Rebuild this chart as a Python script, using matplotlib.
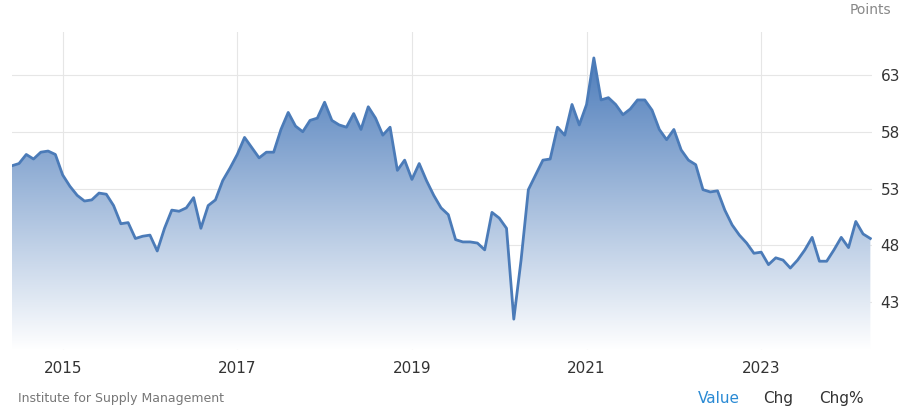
import matplotlib
matplotlib.use("Agg")
import matplotlib.pyplot as plt
import numpy as np
from matplotlib.patches import Polygon

# Monthly values, Jun 2014 .. Apr 2024
start_year = 2014 + 5 / 12
values = [
    55.0, 55.2, 56.0, 55.6, 56.2, 56.3, 56.0,
    54.2, 53.2, 52.4, 51.9, 52.0, 52.6, 52.5, 51.5, 49.9, 50.0, 48.6, 48.8,
    48.9, 47.5, 49.5, 51.1, 51.0, 51.3, 52.2, 49.5, 51.5, 52.0, 53.7, 54.8,
    56.0, 57.5, 56.6, 55.7, 56.2, 56.2, 58.2, 59.7, 58.5, 58.0, 59.0, 59.2,
    60.6, 59.0, 58.6, 58.4, 59.6, 58.2, 60.2, 59.2, 57.7, 58.4, 54.6, 55.5,
    53.8, 55.2, 53.7, 52.4, 51.3, 50.7, 48.5, 48.3, 48.3, 48.2, 47.6, 50.9,
    50.4, 49.5, 41.5, 46.7, 52.9, 54.2, 55.5, 55.6, 58.4, 57.7, 60.4, 58.6,
    60.4, 64.5, 60.8, 61.0, 60.4, 59.5, 60.0, 60.8, 60.8, 59.9, 58.2, 57.3,
    58.2, 56.4, 55.5, 55.1, 52.9, 52.7, 52.8, 51.1, 49.8, 48.9, 48.2, 47.3,
    47.4, 46.3, 46.9, 46.7, 46.0, 46.7, 47.6, 48.7, 46.6, 46.6, 47.6, 48.7,
    47.8, 50.1, 49.0, 48.6,
]
x = start_year + np.arange(len(values)) / 12
y = np.array(values)

year_ticks = [2015, 2017, 2019, 2021, 2023]
y_ticks = [43, 48, 53, 58, 63]
ymin, ymax = 38.8, 66.8

fig = plt.figure(figsize=(9, 4.13), dpi=100)
ax = fig.add_axes([0.013, 0.153, 0.956, 0.77])
ax.set_xlim(x[0], x[-1] + 0.02)
ax.set_ylim(ymin, ymax)

# gradient fill under the line
grad = np.linspace(0, 1, 256).reshape(-1, 1)
cmap = matplotlib.colors.LinearSegmentedColormap.from_list(
    "g", ["#ffffff", "#4e7dbb"])
img = ax.imshow(grad, extent=[x[0], x[-1] + 0.02, ymin, y.max()],
                origin="lower", aspect="auto", cmap=cmap, zorder=1)
poly = Polygon(np.column_stack([np.r_[x[0], x, x[-1]], np.r_[ymin, y, ymin]]),
               closed=True, transform=ax.transData, facecolor="none", edgecolor="none")
ax.add_patch(poly)
img.set_clip_path(poly)

ax.plot(x, y, color="#4b7bb8", lw=2, zorder=3)

ax.set_xticks(year_ticks)
ax.set_xticklabels([str(t) for t in year_ticks])
ax.set_yticks(y_ticks)
ax.yaxis.tick_right()
ax.grid(True, color="#e6e6e6", lw=0.8, zorder=0)
ax.set_axisbelow(True)
for s in ax.spines.values():
    s.set_visible(False)
ax.tick_params(length=0, labelsize=11, colors="#333333")
ax.tick_params(axis="x", pad=8)
ax.tick_params(axis="y", pad=6)

fig.text(0.99, 0.975, "Points", ha="right", va="center", fontsize=10, color="#888888")
fig.text(0.02, 0.035, "Institute for Supply Management", fontsize=9, color="#777777", va="center")
fig.text(0.775, 0.035, "Value", fontsize=11, color="#2a8ad4", va="center")
fig.text(0.848, 0.035, "Chg", fontsize=11, color="#333333", va="center")
fig.text(0.91, 0.035, "Chg%", fontsize=11, color="#333333", va="center")

fig.savefig("out.png", dpi=100)
